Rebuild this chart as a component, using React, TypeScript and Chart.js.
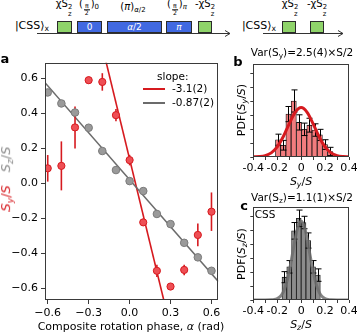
import React, { useEffect, useRef } from "react";
import { Chart, registerables } from "chart.js";
Chart.register(...registerables);

// ---------------- data ----------------
const phases = [-0.6, -0.5, -0.4, -0.3, -0.2, -0.1, 0, 0.1, 0.2, 0.3, 0.4, 0.5, 0.6];
const syValues = [0.086, 0.1, 0.32, 0.59, 0.58, 0.39, 0.133, -0.223, -0.5, -0.59, -0.495, -0.295, -0.162];
const syErrors = [0.076, 0.14, 0.12, 0.02, 0.05, 0.035, 0.03, 0.02, 0.035, 0.012, 0.03, 0.065, 0.11];
const szValues = [0.52, 0.457, 0.405, 0.318, 0.185, 0.076, 0.013, -0.044, -0.175, -0.233, -0.34, -0.423, -0.5];
const fitSlopes = [-3.22, -0.895];
const fitIntercepts = [0.139, 0.021];
const fitRange = [-0.62, 0.65];
const legendLabels = ["-3.1(2)", "-0.87(2)"];
const xTicksA = [-0.6, -0.3, 0, 0.3, 0.6];
const yTicksA = [-0.6, -0.4, -0.2, 0, 0.2, 0.4, 0.6];

const binsB = [-0.193, -0.15, -0.106, -0.062, -0.018, 0.025, 0.069, 0.112, 0.156, 0.199, 0.243];
const pdfB = [1.25, 0.85, 3.1, 4.05, 2.5, 2.0, 2.3, 1.95, 1.6, 0.9, 0.4];
const errB = [0.4, 0.35, 0.55, 0.8, 0.55, 0.45, 0.5, 0.45, 0.4, 0.35, 0.3];
const curveXB = [-0.4, -0.35, -0.3, -0.25, -0.2, -0.15, -0.1, -0.05, 0, 0.05, 0.1, 0.15, 0.2, 0.25, 0.3, 0.35, 0.4];
const curveYB = [0.01, 0.03, 0.1, 0.3, 0.73, 1.46, 2.4, 3.23, 3.57, 3.23, 2.4, 1.46, 0.73, 0.3, 0.1, 0.03, 0.01];

const binsC = [-0.14, -0.1, -0.06, -0.02, 0.02, 0.06, 0.1, 0.14];
const pdfC = [1.65, 2.4, 5.0, 5.9, 5.6, 4.3, 2.4, 1.8];
const errC = [0.4, 0.45, 0.6, 0.6, 0.45, 0.55, 0.45, 0.45];
const curveXC = [-0.4, -0.3, -0.25, -0.225, -0.2, -0.175, -0.15, -0.125, -0.1, -0.075, -0.05, -0.025, 0, 0.025, 0.05, 0.075, 0.1, 0.125, 0.15, 0.175, 0.2, 0.225, 0.25, 0.3, 0.4];
const curveYC = [0, 0, 0.01, 0.03, 0.1, 0.25, 0.57, 1.16, 2.05, 3.21, 4.42, 5.35, 5.7, 5.35, 4.42, 3.21, 2.05, 1.16, 0.57, 0.25, 0.1, 0.03, 0.01, 0, 0];
const histXTicks = [-0.4, -0.3, -0.2, -0.1, 0, 0.1, 0.2, 0.3, 0.4];
const histXLabels = ["-0.4", "", "-0.2", "", "0", "", "0.2", "", "0.4"];
const histYTicks = [0, 1, 2, 3, 4, 5, 6];

// ---------------- styles ----------------
const FONT = "DejaVu Sans";
const RED = "#d61a1f";
const RED_FILL = "#ee4f55";
const GRAY_LINE = "#6b6b6b";
const GRAY_FILL = "#9a9a9a";
const GRAY_EDGE = "#7a7a7a";
const AXIS = "#3a3a3a";

const frame = {
  id: "frame",
  afterDraw(chart: any) {
    const { ctx, chartArea: a } = chart;
    ctx.save();
    ctx.strokeStyle = AXIS;
    ctx.lineWidth = 1;
    ctx.strokeRect(Math.round(a.left) + 0.5, Math.round(a.top) + 0.5, Math.round(a.right - a.left) - 1, Math.round(a.bottom - a.top) - 1);
    ctx.restore();
  },
};

function fixX(h: number) {
  return (s: any) => {
    s.height = h;
    s.paddingLeft = 0;
    s.paddingRight = 0;
  };
}
function fixY(w: number) {
  return (s: any) => {
    s.width = w;
    s.paddingTop = 0;
    s.paddingBottom = 0;
  };
}
const fmtA = (v: number) => (v < -1e-9 ? "\u2212" : "") + Math.abs(v).toFixed(1);

function PanelA() {
  const ref = useRef<HTMLCanvasElement>(null);
  useEffect(() => {
    const errPlugin = {
      id: "errA",
      beforeDatasetDraw(chart: any, args: any) {
        if (args.index !== 2) return;
        const { ctx } = chart;
        const xs = chart.scales.x, ys = chart.scales.y;
        ctx.save();
        ctx.strokeStyle = RED;
        ctx.lineWidth = 1.6;
        phases.forEach((p, i) => {
          const px = xs.getPixelForValue(p);
          ctx.beginPath();
          ctx.moveTo(px, ys.getPixelForValue(syValues[i] - syErrors[i]));
          ctx.lineTo(px, ys.getPixelForValue(syValues[i] + syErrors[i]));
          ctx.stroke();
        });
        ctx.restore();
      },
    };
    const legendPlugin = {
      id: "legA",
      afterDraw(chart: any) {
        const { ctx } = chart;
        ctx.save();
        ctx.font = `10.5px "${FONT}"`;
        ctx.fillStyle = "#000";
        ctx.textBaseline = "middle";
        ctx.textAlign = "left";
        ctx.fillText("slope:", 157, 77 - 45);
        const cols = [RED, GRAY_LINE];
        legendLabels.forEach((t, i) => {
          const y = 89 - 45 + i * 14;
          ctx.strokeStyle = cols[i];
          ctx.lineWidth = 2;
          ctx.beginPath();
          ctx.moveTo(143, y);
          ctx.lineTo(165, y);
          ctx.stroke();
          ctx.fillText(t, 172, y);
        });
        ctx.restore();
      },
    };
    const line = (k: number) => fitRange.map((x) => ({ x, y: fitIntercepts[k] + fitSlopes[k] * x }));
    const chart = new Chart(ref.current!, {
      type: "scatter",
      data: {
        datasets: [
          { data: line(0), showLine: true, borderColor: RED, borderWidth: 1.6, pointRadius: 0, order: 3 } as any,
          { data: line(1), showLine: true, borderColor: GRAY_LINE, borderWidth: 1.6, pointRadius: 0, order: 2 },
          { data: phases.map((x, i) => ({ x, y: syValues[i] })), backgroundColor: RED_FILL, borderColor: RED, borderWidth: 1, pointRadius: 3.6, order: 1 },
          { data: phases.map((x, i) => ({ x, y: szValues[i] })), backgroundColor: GRAY_FILL, borderColor: GRAY_EDGE, borderWidth: 1, pointRadius: 3.8, order: 0 },
        ],
      },
      options: {
        responsive: false,
        animation: false,
        devicePixelRatio: 1,
        layout: { padding: { top: 17.7, right: 11.7, left: 0, bottom: 0 } },
        plugins: { legend: { display: false }, tooltip: { enabled: false } },
        scales: {
          x: {
            type: "linear",
            min: fitRange[0],
            max: fitRange[1],
            afterBuildTicks: (s: any) => { s.ticks = xTicksA.map((v) => ({ value: v })); },
            afterFit: fixX(33),
            ticks: { callback: (v: any) => fmtA(Number(v)), color: "#000", font: { family: FONT, size: 11 }, padding: 3, maxRotation: 0, autoSkip: false },
            grid: { drawOnChartArea: false, drawTicks: true, tickLength: 4, color: AXIS },
            border: { display: false },
          },
          y: {
            type: "linear",
            min: -0.667,
            max: 0.69,
            afterBuildTicks: (s: any) => { s.ticks = yTicksA.map((v) => ({ value: v })); },
            afterFit: fixY(45),
            ticks: { callback: (v: any) => fmtA(Number(v)), color: "#000", font: { family: FONT, size: 11 }, padding: 3, autoSkip: false },
            grid: { drawOnChartArea: false, drawTicks: true, tickLength: 4, color: AXIS },
            border: { display: false },
          },
        },
      },
      plugins: [errPlugin, legendPlugin, frame],
    });
    return () => chart.destroy();
  }, []);
  return <canvas ref={ref} width={230} height={288} style={{ position: "absolute", left: 0, top: 45, width: 230, height: 288 }} />;
}

function Hist(props: { bins: number[]; pdf: number[]; err: number[]; cx: number[]; cy: number[]; barColor: string; curveColor: string; top: number; height: number; padTop: number; xh: number }) {
  const ref = useRef<HTMLCanvasElement>(null);
  useEffect(() => {
    const { bins, pdf, err } = props;
    const errPlugin = {
      id: "errH",
      afterDatasetDraw(chart: any, args: any) {
        if (args.index !== 0) return;
        const { ctx } = chart;
        const xs = chart.scales.x, ys = chart.scales.y;
        ctx.save();
        ctx.strokeStyle = "#000";
        ctx.lineWidth = 1;
        bins.forEach((b, i) => {
          const px = Math.round(xs.getPixelForValue(b)) + 0.5;
          const y1 = ys.getPixelForValue(pdf[i] - err[i]);
          const y2 = ys.getPixelForValue(pdf[i] + err[i]);
          ctx.beginPath();
          ctx.moveTo(px, y1);
          ctx.lineTo(px, y2);
          ctx.moveTo(px - 3, y1);
          ctx.lineTo(px + 3, y1);
          ctx.moveTo(px - 3, y2);
          ctx.lineTo(px + 3, y2);
          ctx.stroke();
        });
        ctx.restore();
      },
    };
    const chart = new Chart(ref.current!, {
      type: "bar",
      data: {
        datasets: [
          { type: "bar", data: bins.map((x, i) => ({ x, y: pdf[i] })), backgroundColor: props.barColor, borderColor: "#111", borderWidth: 0.8, barPercentage: 1, categoryPercentage: 1, order: 1 } as any,
          { type: "line", data: props.cx.map((x, i) => ({ x, y: props.cy[i] })), borderColor: props.curveColor, borderWidth: 3, pointRadius: 0, tension: 0.35, cubicInterpolationMode: "monotone", order: 0 },
        ],
      },
      options: {
        responsive: false,
        animation: false,
        devicePixelRatio: 1,
        layout: { padding: { top: props.padTop, right: 8, left: 0, bottom: 0 } },
        plugins: { legend: { display: false }, tooltip: { enabled: false } },
        scales: {
          x: {
            type: "linear",
            min: -0.4,
            max: 0.4,
            offset: false,
            afterBuildTicks: (s: any) => { s.ticks = histXTicks.map((v) => ({ value: v })); },
            afterFit: fixX(props.xh),
            ticks: { callback: (_v: any, i: number) => histXLabels[i], color: "#000", font: { family: FONT, size: 11 }, padding: 2, maxRotation: 0, autoSkip: false },
            grid: { drawOnChartArea: false, drawTicks: true, tickLength: 3, color: AXIS, offset: false },
            border: { display: false },
          },
          y: {
            type: "linear",
            min: 0,
            max: 6.7,
            afterBuildTicks: (s: any) => { s.ticks = histYTicks.map((v) => ({ value: v })); },
            afterFit: fixY(23.3),
            ticks: { display: false },
            grid: { drawOnChartArea: false, drawTicks: true, tickLength: 3, color: AXIS },
            border: { display: false },
          },
        },
      },
      plugins: [errPlugin, frame],
    });
    return () => chart.destroy();
  }, []);
  return <canvas ref={ref} width={127} height={props.height} style={{ position: "absolute", left: 230, top: props.top, width: 127, height: props.height }} />;
}

// ---------------- text helpers ----------------
const base: React.CSSProperties = { position: "absolute", fontFamily: FONT, whiteSpace: "nowrap", lineHeight: 1, color: "#000" };
function T(p: { x: number; y: number; size?: number; rot?: boolean; style?: React.CSSProperties; children: any }) {
  return (
    <div style={{ ...base, left: p.x, top: p.y, fontSize: p.size ?? 11, transform: `translate(-50%,-50%)${p.rot ? " rotate(-90deg)" : ""}`, ...p.style }}>
      {p.children}
    </div>
  );
}
const Sub = ({ children }: any) => <span style={{ fontSize: "0.7em", verticalAlign: "-0.3em" }}>{children}</span>;
const SubSup = ({ sub, sup }: any) => (
  <span style={{ display: "inline-flex", flexDirection: "column", fontSize: "0.68em", lineHeight: 0.95, verticalAlign: "-0.35em" }}>
    <span>{sup}</span>
    <span>{sub}</span>
  </span>
);
const Frac = ({ n, d }: any) => (
  <span style={{ display: "inline-flex", flexDirection: "column", alignItems: "center", fontSize: "0.62em", lineHeight: 1, verticalAlign: "-0.15em", margin: "0 1px" }}>
    <span style={{ borderBottom: "0.8px solid #000", padding: "0 1px" }}>{n}</span>
    <span>{d}</span>
  </span>
);
const SyS = () => (<><i>S</i><Sub><i>y</i></Sub>/<i>S</i></>);
const SzS = () => (<><i>S</i><Sub><i>z</i></Sub>/<i>S</i></>);
const ChiS = ({ minus }: any) => (<>{minus ? "-" : ""}χS<SubSup sub="z" sup="2" /></>);
const Ket = () => (<>|CSS⟩<Sub>x</Sub></>);

function Box(p: { x: number; w: number; blue?: boolean; children?: any }) {
  return (
    <div style={{ position: "absolute", left: p.x, top: 21, width: p.w, height: 12, boxSizing: "border-box", background: p.blue ? "#4169e1" : "#8fd46a", border: "1px solid #2b2b2b", color: "#fff", fontFamily: FONT, fontSize: 9, lineHeight: 1, display: "flex", alignItems: "center", justifyContent: "center" }}>
      {p.children}
    </div>
  );
}
function Arrow(p: { x1: number; x2: number }) {
  return (
    <svg style={{ position: "absolute", left: 0, top: 0 }} width={357} height={45}>
      <line x1={p.x1} y1={33.5} x2={p.x2} y2={33.5} stroke="#333" strokeWidth={1} />
      <polyline points={`${p.x2 - 5},${30.5} ${p.x2},${33.5} ${p.x2 - 5},${36.5}`} fill="none" stroke="#333" strokeWidth={1} />
    </svg>
  );
}

export default function App() {
  return (
    <div style={{ position: "absolute", left: 0, top: 0, width: 357, height: 333, background: "#fff", overflow: "hidden" }}>
      {/* schematic */}
      <Arrow x1={37} x2={230} />
      <Arrow x1={263} x2={343} />
      <T x={32} y={26} size={11}><Ket /></T>
      <T x={259} y={26} size={11}><Ket /></T>
      <Box x={57} w={15} />
      <Box x={77} w={25} blue>0</Box>
      <Box x={107} w={55} blue><i>α</i>/2</Box>
      <Box x={166} w={26} blue><i>π</i></Box>
      <Box x={198} w={14} />
      <Box x={282} w={14} />
      <Box x={310} w={14} />
      <T x={64} y={8} size={10}><ChiS /></T>
      <T x={89} y={8} size={10}>(<Frac n="π" d="2" />)<Sub>0</Sub></T>
      <T x={133} y={8} size={10}>(<i>π</i>)<Sub><i>α</i>/2</Sub></T>
      <T x={177} y={8} size={10}>(<Frac n="π" d="2" />)<Sub><i>π</i></Sub></T>
      <T x={205} y={8} size={10}><ChiS minus /></T>
      <T x={290} y={8} size={10}><ChiS /></T>
      <T x={317} y={8} size={10}><ChiS minus /></T>

      {/* charts */}
      <PanelA />
      <Hist bins={binsB} pdf={pdfB} err={errB} cx={curveXB} cy={curveYB} barColor="#f27c7e" curveColor={RED} top={50} height={135} padTop={14.3} xh={28} />
      <Hist bins={binsC} pdf={pdfC} err={errC} cx={curveXC} cy={curveYC} barColor="#8c8c8c" curveColor="rgba(110,110,110,0.85)" top={195} height={138} padTop={12.3} xh={33} />

      {/* panel labels */}
      <T x={5} y={58} size={13} style={{ fontWeight: "bold" }}>a</T>
      <T x={238} y={61} size={13} style={{ fontWeight: "bold" }}>b</T>
      <T x={244} y={205} size={13} style={{ fontWeight: "bold" }}>c</T>

      {/* panel a axis titles */}
      <T x={7} y={179} size={13} rot>
        <span style={{ color: RED }}><SyS /></span>
        <span style={{ color: "#8a8a8a", marginLeft: 13 }}><SzS /></span>
      </T>
      <T x={131} y={326} size={11}>Composite rotation phase, <i>α</i> (rad)</T>

      {/* panel b */}
      <T x={302} y={53} size={10.5}>Var(S<Sub>y</Sub>)=2.5(4)×S/2</T>
      <T x={242} y={110} size={11} rot>PDF(<SyS />)</T>
      <T x={301} y={182} size={11}><SyS /></T>

      {/* panel c */}
      <T x={302} y={198} size={10.5}>Var(S<Sub>z</Sub>)=1.1(1)×S/2</T>
      <T x={265} y={214} size={10.5}>CSS</T>
      <T x={242} y={254} size={11} rot>PDF(<SzS />)</T>
      <T x={301} y={325} size={11}><SzS /></T>
    </div>
  );
}
